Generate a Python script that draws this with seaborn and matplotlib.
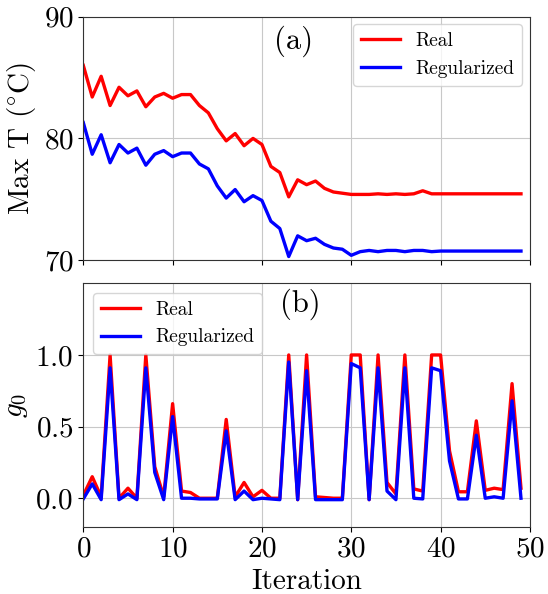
import numpy as np
import pandas as pd
import seaborn as sns
from matplotlib import pyplot as plt

iterations = list(range(50))

# Max T (°C) per iteration
maxT_real = [86.0, 83.4, 85.1, 82.7, 84.2, 83.5, 83.9, 82.6, 83.4, 83.7,
             83.3, 83.6, 83.6, 82.7, 82.1, 80.8, 79.8, 80.4, 79.4, 80.0,
             79.5, 77.7, 77.2, 75.2, 76.6, 76.2, 76.5, 75.9, 75.6, 75.5,
             75.4, 75.4, 75.4, 75.45, 75.4, 75.45, 75.4, 75.45, 75.7, 75.45,
             75.45, 75.45, 75.45, 75.45, 75.45, 75.45, 75.45, 75.45, 75.45, 75.45]
maxT_reg = [81.3, 78.7, 80.3, 78.0, 79.5, 78.8, 79.2, 77.8, 78.7, 79.0,
            78.5, 78.8, 78.8, 77.9, 77.5, 76.1, 75.1, 75.8, 74.8, 75.3,
            74.9, 73.2, 72.6, 70.3, 72.0, 71.6, 71.8, 71.3, 71.0, 70.9,
            70.4, 70.7, 70.8, 70.7, 70.8, 70.8, 70.7, 70.8, 70.8, 70.7,
            70.75, 70.75, 70.75, 70.75, 70.75, 70.75, 70.75, 70.75, 70.75, 70.75]

# g0 per iteration
g0_real = [0.02, 0.15, 0.01, 1.0, 0.0, 0.07, 0.0, 1.0, 0.22, 0.01,
           0.66, 0.05, 0.04, 0.0, 0.0, 0.0, 0.55, 0.01, 0.11, 0.01,
           0.055, 0.0, 0.0, 1.0, -0.01, 1.0, 0.01, 0.005, 0.0, 0.0,
           1.0, 1.0, -0.01, 1.0, 0.11, 0.03, 1.0, 0.065, 0.05, 1.0,
           1.0, 0.33, 0.045, 0.045, 0.54, 0.055, 0.07, 0.06, 0.80, 0.07]
g0_reg = [-0.005, 0.10, -0.01, 0.91, -0.01, 0.03, -0.01, 0.91, 0.18, -0.01,
          0.57, 0.0, 0.0, -0.005, -0.005, -0.005, 0.47, -0.01, 0.05, -0.01,
          0.0, -0.005, -0.01, 0.95, -0.01, 0.89, -0.01, -0.01, -0.01, -0.01,
          0.94, 0.91, -0.01, 0.91, 0.05, -0.01, 0.91, 0.0, -0.005, 0.91,
          0.89, 0.26, -0.005, -0.005, 0.44, 0.0, 0.01, 0.0, 0.68, 0.0]

plt.rcParams['font.family'] = 'cmr10'
plt.rcParams['mathtext.fontset'] = 'cm'
plt.rcParams['axes.formatter.use_mathtext'] = True
plt.rcParams['axes.unicode_minus'] = False

colors = {'Real': 'red', 'Regularized': 'blue'}

df_T = pd.DataFrame({
  'Iteration': iterations * 2,
  'value': maxT_real + maxT_reg,
  'series': ['Real'] * 50 + ['Regularized'] * 50,
})
df_g = pd.DataFrame({
  'Iteration': iterations * 2,
  'value': g0_real + g0_reg,
  'series': ['Real'] * 50 + ['Regularized'] * 50,
})

fig, (ax1, ax2) = plt.subplots(2, 1, figsize=(5.48, 5.94), dpi=100, sharex=True)
fig.subplots_adjust(left=0.152, right=0.967, top=0.972, bottom=0.113, hspace=0.095)

sns.lineplot(data=df_T, x='Iteration', y='value', hue='series', palette=colors,
             linewidth=2.4, ax=ax1)
sns.lineplot(data=df_g, x='Iteration', y='value', hue='series', palette=colors,
             linewidth=2.4, ax=ax2)

ax1.set_xlim(0, 50)
ax1.set_ylim(70, 90)
ax1.set_yticks([70, 80, 90])
ax1.set_ylabel(r'Max T $(^{\circ}\mathrm{C})$', fontsize=21)
ax1.set_xlabel('')
ax1.grid(True, color='#c8c8c8', linewidth=0.8)
ax1.tick_params(labelsize=21, labelbottom=False)
ax1.legend(loc='upper right', fontsize=14, handlelength=2.0, borderaxespad=0.4)
ax1.text(0.47, 0.9, '(a)', transform=ax1.transAxes, fontsize=22, ha='center', va='center')

ax2.set_ylim(-0.2, 1.5)
ax2.set_yticks([0.0, 0.5, 1.0])
ax2.set_xticks([0, 10, 20, 30, 40, 50])
ax2.set_ylabel(r'$g_0$', fontsize=21)
ax2.set_xlabel('Iteration', fontsize=21)
ax2.grid(True, color='#c8c8c8', linewidth=0.8)
ax2.tick_params(labelsize=21)
ax2.legend(loc='upper left', fontsize=14, handlelength=2.0)
ax2.text(0.485, 0.915, '(b)', transform=ax2.transAxes, fontsize=22, ha='center', va='center')

for ax in (ax1, ax2):
  for s in ax.spines.values():
    s.set_color('#333333')

fig.savefig('out.png', dpi=100)
